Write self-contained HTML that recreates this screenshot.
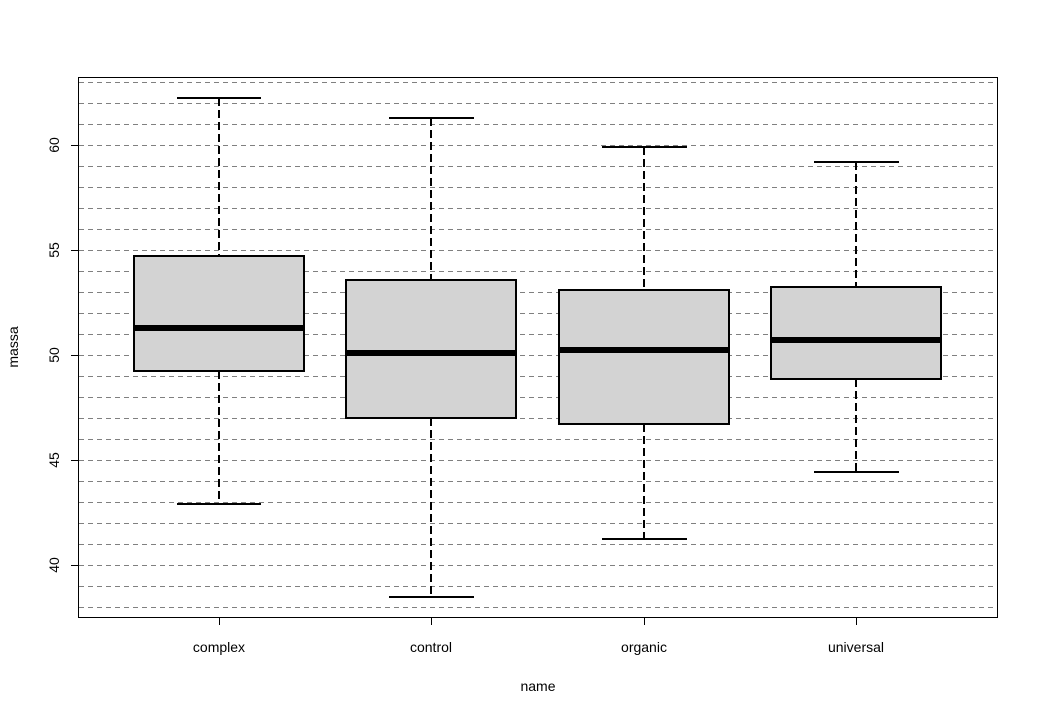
<!DOCTYPE html>
<html><head><style>html,body{margin:0;padding:0;background:#fff}</style></head>
<body>
<svg width="1038" height="715" xmlns="http://www.w3.org/2000/svg" font-family="Liberation Sans, sans-serif" font-size="14">
<g stroke="#808080" stroke-width="1" stroke-dasharray="5,4" id="grid"></g>
<script>
var g=document.getElementById('grid');
for(var v=38;v<=63;v++){var y=145+(60-v)*21;var l=document.createElementNS('http://www.w3.org/2000/svg','line');l.setAttribute('x1',79);l.setAttribute('x2',996);l.setAttribute('y1',y+0.5);l.setAttribute('y2',y+0.5);g.appendChild(l);}
</script>
<rect x="78.5" y="77.5" width="919" height="540" fill="none" stroke="#000"/>
<g stroke="#000" stroke-width="2">
<!-- complex -->
<line x1="219" y1="98" x2="219" y2="256" stroke-dasharray="8,4"/>
<line x1="219" y1="371" x2="219" y2="504" stroke-dasharray="8,4"/>
<line x1="177" y1="98" x2="261" y2="98"/><line x1="177" y1="504" x2="261" y2="504"/>
<rect x="134" y="256" width="170" height="115" fill="#d3d3d3"/>
<line x1="134" y1="328" x2="304" y2="328" stroke-width="6"/>
<!-- control -->
<line x1="431" y1="118" x2="431" y2="280" stroke-dasharray="8,4"/>
<line x1="431" y1="418" x2="431" y2="597" stroke-dasharray="8,4"/>
<line x1="389" y1="118" x2="474" y2="118"/><line x1="389" y1="597" x2="474" y2="597"/>
<rect x="346" y="280" width="170" height="138" fill="#d3d3d3"/>
<line x1="346" y1="353" x2="516" y2="353" stroke-width="6"/>
<!-- organic -->
<line x1="644" y1="147" x2="644" y2="290" stroke-dasharray="8,4"/>
<line x1="644" y1="424" x2="644" y2="539" stroke-dasharray="8,4"/>
<line x1="602" y1="147" x2="687" y2="147"/><line x1="602" y1="539" x2="687" y2="539"/>
<rect x="559" y="290" width="170" height="134" fill="#d3d3d3"/>
<line x1="559" y1="350" x2="729" y2="350" stroke-width="6"/>
<!-- universal -->
<line x1="856" y1="162" x2="856" y2="287" stroke-dasharray="8,4"/>
<line x1="856" y1="379" x2="856" y2="472" stroke-dasharray="8,4"/>
<line x1="814" y1="162" x2="899" y2="162"/><line x1="814" y1="472" x2="899" y2="472"/>
<rect x="771" y="287" width="170" height="92" fill="#d3d3d3"/>
<line x1="771" y1="340" x2="941" y2="340" stroke-width="6"/>
</g>
<g stroke="#000" stroke-width="1">
<line x1="71" y1="145.5" x2="78" y2="145.5"/><line x1="71" y1="250.5" x2="78" y2="250.5"/>
<line x1="71" y1="355.5" x2="78" y2="355.5"/><line x1="71" y1="460.5" x2="78" y2="460.5"/>
<line x1="71" y1="565.5" x2="78" y2="565.5"/>
<line x1="219.5" y1="618" x2="219.5" y2="625"/><line x1="431.5" y1="618" x2="431.5" y2="625"/>
<line x1="644.5" y1="618" x2="644.5" y2="625"/><line x1="856.5" y1="618" x2="856.5" y2="625"/>
</g>
<g text-anchor="middle" fill="#000">
<text transform="translate(59,145) rotate(-90)">60</text>
<text transform="translate(59,250) rotate(-90)">55</text>
<text transform="translate(59,355) rotate(-90)">50</text>
<text transform="translate(59,460) rotate(-90)">45</text>
<text transform="translate(59,565) rotate(-90)">40</text>
<text x="219" y="652">complex</text>
<text x="431" y="652">control</text>
<text x="644" y="652">organic</text>
<text x="856" y="652">universal</text>
<text x="538" y="691">name</text>
<text transform="translate(18,347) rotate(-90)">massa</text>
</g>
</svg>
</body></html>
